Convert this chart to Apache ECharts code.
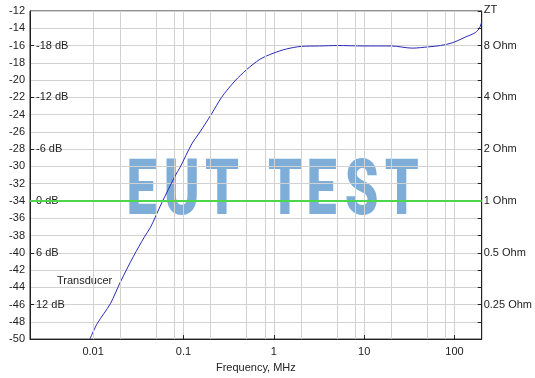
<!DOCTYPE html>
<html>
<head>
<meta charset="utf-8">
<script src="https://cdn.jsdelivr.net/npm/echarts@6/dist/echarts.min.js"></script>
<style>
  html, body { margin: 0; padding: 0; background: #fff; }
  #chart { width: 535px; height: 378px; }
</style>
</head>
<body>
<div id="chart"></div>
<script>
// transducer curve, frequency in MHz
const freq = [0.0092, 0.0111, 0.0155, 0.020, 0.028, 0.0368, 0.0429, 0.0486, 0.0576, 0.0808, 0.0917,
  0.1235, 0.1524, 0.205, 0.264, 0.371, 0.499, 0.70, 0.98, 1.38, 2.01, 3.2, 5, 10, 20, 34, 52, 70,
  94, 121, 133, 164, 186, 200];
const level = [-50, -48.2, -45.9, -43.4, -40.4, -38.2, -37.1, -35.9, -34.2, -31.1, -30.1,
  -27.4, -26.0, -23.9, -22.0, -20.1, -18.8, -17.6, -16.9, -16.4, -16.1, -16.05, -16.0, -16.05, -16.05, -16.3, -16.15, -16.0,
  -15.7, -15.2, -15.0, -14.6, -14.1, -13.3];

// extra vertical grid lines (2, 5, 8 per decade)
const minorGrid = [0.005, 0.008, 0.02, 0.05, 0.08, 0.2, 0.5, 0.8, 2, 5, 8, 20, 50, 80];

// inner labels on left / right scales
const markPos = [-16, -22, -28, -34, -40, -46];
const dbLabels = ['-18 dB', '-12 dB', '-6 dB', '0 dB', '6 dB', '12 dB'];
const ohmLabels = ['8 Ohm', '4 Ohm', '2 Ohm', '1 Ohm', '0.5 Ohm', '0.25 Ohm'];
const refLevel = -34;

const font = 'Liberation Sans';
const gridColor = '#d2d2d2';

const chart = echarts.init(document.getElementById('chart'));

// watermark letters: [char, centre x]
const wm = [['E', 141.7], ['U', 181.7], ['T', 222], ['T', 285], ['E', 321.7], ['S', 361.7], ['T', 401.7]];

chart.setOption({
  animation: false,
  grid: { left: 30, right: 52, top: 11, bottom: 35, show: true, borderColor: '#222', borderWidth: 1 },
  xAxis: {
    type: 'log',
    logBase: 10,
    min: 0.002,
    max: 200,
    name: 'Frequency, MHz',
    nameLocation: 'middle',
    nameGap: 18,
    nameTextStyle: { fontFamily: font, fontSize: 11, color: '#222' },
    axisLine: { lineStyle: { color: '#222' } },
    axisTick: { inside: true, length: 4, lineStyle: { color: '#222' } },
    axisLabel: {
      fontFamily: font, fontSize: 11, color: '#222', margin: 7,
      showMinLabel: false, showMaxLabel: false,
      formatter: v => String(+(+v).toPrecision(6))
    },
    splitLine: { show: true, lineStyle: { color: gridColor } }
  },
  yAxis: [
    {
      type: 'value', position: 'left', min: -50, max: -12, interval: 2,
      axisLine: { show: true, lineStyle: { color: '#222' } },
      axisTick: { show: false },
      axisLabel: { fontFamily: font, fontSize: 11, color: '#222', margin: 5 },
      splitLine: { show: true, lineStyle: { color: gridColor } }
    },
    {
      type: 'value', position: 'right', min: -50, max: -12, interval: 2,
      name: 'ZT', nameLocation: 'end', nameGap: 2,
      nameTextStyle: { fontFamily: font, fontSize: 11, color: '#222', align: 'left', verticalAlign: 'bottom', padding: [0, 0, -6, 2] },
      axisLine: { show: true, lineStyle: { color: '#222' } },
      axisTick: { show: true, inside: true, length: 4, lineStyle: { color: '#222' } },
      axisLabel: {
        fontFamily: font, fontSize: 11, color: '#222', margin: 2,
        customValues: markPos,
        formatter: v => { const i = markPos.indexOf(v); return i < 0 ? '' : ohmLabels[i]; }
      },
      splitLine: { show: false }
    },
    {
      type: 'value', position: 'left', min: -50, max: -12, interval: 2,
      axisLine: { show: false },
      axisTick: { show: true, inside: true, length: 4, customValues: markPos, lineStyle: { color: '#222' } },
      axisLabel: {
        inside: true, fontFamily: font, fontSize: 11, color: '#222', margin: 6,
        customValues: markPos,
        formatter: v => { const i = markPos.indexOf(v); return i < 0 ? '' : dbLabels[i]; }
      },
      splitLine: { show: false }
    }
  ],
  graphic: [
    ...wm.map(([ch, x]) => ({
      type: 'text', x: x, y: 195, z: 0, silent: true,
      scaleX: 1.08, scaleY: 1.55,
      style: {
        text: ch, fontFamily: 'Roboto', fontWeight: 900, fontSize: 50,
        fill: 'rgba(40,120,190,0.6)', align: 'center', verticalAlign: 'middle'
      }
    })),
    {
      type: 'text', left: 57, top: 275, silent: true,
      style: { text: 'Transducer', fontFamily: font, fontSize: 11, fill: '#222' }
    }
  ],
  series: [
    {
      type: 'line', data: [], silent: true,
      markLine: {
        silent: true, symbol: 'none', label: { show: false },
        lineStyle: { color: gridColor, type: 'solid', width: 1 },
        data: minorGrid.map(v => ({ xAxis: v }))
      }
    },
    {
      type: 'line', data: [], silent: true,
      markLine: {
        silent: true, symbol: 'none', label: { show: false },
        lineStyle: { color: '#4cd64c', type: 'solid', width: 2 },
        data: [{ yAxis: refLevel }]
      }
    },
    {
      type: 'line',
      data: freq.map((f, i) => [f, level[i]]),
      showSymbol: false,
      smooth: 0.3,
      lineStyle: { color: '#2a2ab8', width: 1 }
    }
  ]
});
</script>
</body>
</html>
